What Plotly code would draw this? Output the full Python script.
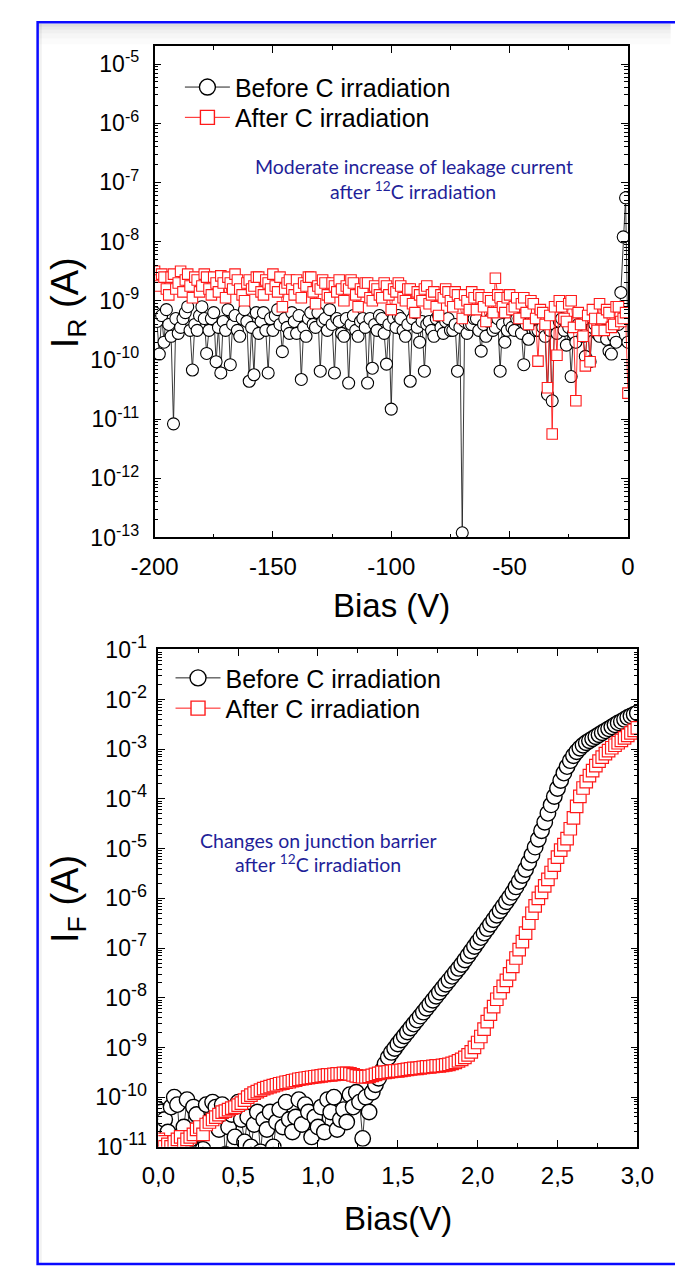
import numpy as np
import plotly.graph_objects as go

# ---------------- DATA ----------------
# Reverse bias sweep (V), 1 V steps
rev_bias = np.arange(-200, 1, 1)
# log10 of reverse current I_R (A)
rev_before_log10 = [
    -9.2, -9.35, -9.9, -9.25, -9.7, -9.15, -9.4, -9.6, -11.08, -9.3,
    -9.55, -9.45, -9.3, -9.2, -9.1, -9.5, -10.17, -9.4, -9.5, -9.25,
    -9.1, -9.3, -9.89, -9.5, -9.3, -9.2, -10.03, -9.45, -10.22, -9.35,
    -9.5, -9.15, -10.08, -9.4, -9.25, -9.5, -9.6, -9.3, -9.15, -9.35,
    -10.36, -9.45, -10.25, -9.2, -9.55, -9.35, -9.2, -9.5, -10.22, -9.3,
    -9.5, -9.25, -9.15, -9.4, -9.86, -9.3, -9.45, -9.55, -9.2, -9.35,
    -9.55, -9.25, -10.33, -9.45, -9.6, -9.3, -9.2, -9.4, -9.45, -9.2,
    -10.19, -9.35, -9.3, -9.5, -9.15, -9.4, -10.22, -9.3, -9.35, -9.55,
    -9.6, -9.3, -10.39, -9.4, -9.25, -9.5, -9.6, -9.35, -9.3, -9.45,
    -10.39, -9.3, -10.14, -9.4, -9.5, -9.25, -9.3, -9.55, -10.07, -9.4,
    -10.83, -9.3, -9.45, -9.25, -9.3, -9.5, -9.6, -9.4, -10.36, -9.3,
    -9.2, -9.45, -9.7, -9.35, -10.19, -9.4, -9.35, -9.5, -9.6, -9.3,
    -9.25, -9.45, -9.55, -9.35, -9.3, -9.5, -9.5, -9.4, -10.19, -9.45,
    -12.92, -9.35, -9.55, -9.4, -9.4, -9.3, -9.3, -9.5, -9.85, -9.4,
    -9.6, -9.35, -9.3, -9.5, -9.45, -9.3, -10.19, -9.4, -9.7, -9.5,
    -9.35, -9.45, -9.5, -9.3, -9.3, -9.55, -10.08, -9.4, -9.65, -9.35,
    -9.35, -9.5, -9.5, -9.3, -9.45, -9.6, -10.58, -9.5, -10.69, -9.4,
    -9.55, -9.35, -9.3, -9.5, -9.75, -9.45, -10.28, -9.55, -9.7, -9.4,
    -9.45, -9.6, -9.94, -9.5, -10.03, -9.45, -9.4, -9.55, -9.6, -9.4,
    -9.5, -9.65, -9.85, -9.9, -9.6, -9.7, -9.4, -8.86, -7.92, -7.26,
    -9.7,
]
rev_after_log10 = [
    -8.5, -8.65, -8.75, -8.55, -8.6, -8.8, -8.9, -8.6, -8.55, -8.8,
    -8.7, -8.5, -8.85, -8.65, -8.55, -8.75, -8.95, -8.6, -8.65, -8.85,
    -8.75, -8.55, -8.6, -8.8, -8.9, -8.6, -8.7, -8.85, -8.58, -8.7,
    -8.95, -8.6, -8.7, -8.8, -8.55, -8.65, -8.8, -8.9, -9.0, -8.7,
    -8.65, -8.8, -8.75, -8.6, -8.6, -8.85, -8.9, -8.65, -8.7, -8.8,
    -8.55, -8.75, -8.85, -8.6, -9.1, -8.8, -8.7, -8.65, -8.8, -8.9,
    -8.65, -8.8, -8.95, -8.7, -8.75, -8.6, -8.6, -8.85, -9.05, -8.75,
    -8.8, -8.65, -8.7, -8.9, -8.95, -8.7, -8.75, -8.85, -8.65, -8.8,
    -9.0, -8.75, -8.8, -8.65, -8.7, -8.9, -9.1, -8.8, -8.85, -8.7,
    -8.7, -8.95, -9.0, -8.75, -8.8, -8.9, -8.95, -8.7, -8.75, -8.9,
    -9.15, -8.8, -8.85, -8.7, -8.75, -8.95, -9.0, -8.8, -8.8, -9.05,
    -9.2, -8.85, -8.9, -9.0, -8.8, -8.75, -9.05, -8.9, -8.85, -9.1,
    -9.25, -8.9, -8.95, -8.8, -8.85, -9.0, -9.1, -8.85, -8.9, -9.05,
    -9.3, -8.9, -9.0, -9.15, -8.85, -8.95, -9.15, -8.9, -8.95, -9.1,
    -9.35, -8.95, -9.0, -9.2, -8.62, -8.9, -8.95, -9.1, -9.2, -8.95,
    -8.9, -9.15, -9.1, -8.95, -9.3, -9.05, -8.95, -9.2, -9.4, -9.0,
    -9.05, -9.3, -10.02, -9.15, -9.2, -9.4, -10.47, -9.25, -11.25, -9.1,
    -9.92, -9.0, -9.1, -9.3, -9.35, -9.05, -9.0, -9.45, -10.69, -9.2,
    -9.4, -9.6, -10.1, -9.25, -10.03, -9.15, -9.3, -9.5, -9.05, -9.3,
    -9.5, -9.15, -9.2, -9.45, -9.4, -9.1, -9.1, -9.35, -9.3, -9.2,
    -10.56,
]

# Forward bias sweep (V), 0.02 V steps
fwd_bias = np.round(np.arange(0, 3.001, 0.02), 2)
# log10 of forward current I_F (A)
fwd_before_log10 = [
    -10.25, -10.3, -10.45, -10.7, -10.2, -10.0, -10.15, -11.1, -10.6, -10.05,
    -10.85, -10.2, -10.35, -10.75, -11.05, -10.15, -10.5, -10.1, -10.2, -10.65,
    -10.15, -11.15, -10.6, -10.35, -10.8, -10.1, -10.45, -10.9, -10.4, -11.0,
    -10.55, -10.3, -11.1, -10.45, -10.65, -10.3, -11.0, -10.5, -10.25, -10.6,
    -10.1, -10.45, -10.7, -10.4, -10.05, -10.55, -10.15, -10.3, -10.8, -10.4,
    -10.6, -10.2, -10.7, -10.05, -10.3, -10.0, -10.65, -10.45, -10.25, -10.5,
    -9.95, -10.2, -9.9, -10.1, -10.83, -10.0, -10.3, -9.9, -9.75, -9.62,
    -9.47, -9.33, -9.2, -9.1, -9.02, -8.93, -8.85, -8.77, -8.69, -8.61,
    -8.53, -8.45, -8.37, -8.29, -8.21, -8.13, -8.05, -7.97, -7.89, -7.81,
    -7.73, -7.65, -7.57, -7.49, -7.41, -7.33, -7.24, -7.15, -7.06, -6.97,
    -6.88, -6.79, -6.7, -6.61, -6.52, -6.43, -6.34, -6.25, -6.16, -6.07,
    -5.98, -5.88, -5.77, -5.66, -5.54, -5.42, -5.28, -5.13, -4.97, -4.81,
    -4.64, -4.47, -4.29, -4.12, -3.95, -3.79, -3.63, -3.48, -3.35, -3.23,
    -3.13, -3.05, -2.98, -2.92, -2.87, -2.83, -2.79, -2.75, -2.71, -2.67,
    -2.63, -2.59, -2.55, -2.51, -2.47, -2.44, -2.40, -2.36, -2.33, -2.30,
    -2.27,
]
fwd_after_log10 = [
    -10.85, -10.9, -11.0, -10.95, -11.0, -10.9, -10.85, -10.8, -10.95, -10.85,
    -10.8, -10.75, -10.65, -10.6, -10.75, -10.55, -10.5, -10.45, -10.4, -10.35,
    -10.3, -10.28, -10.25, -10.22, -10.2, -10.16, -10.12, -10.06, -10.0, -9.96,
    -9.92, -9.89, -9.86, -9.83, -9.81, -9.79, -9.77, -9.75, -9.73, -9.72,
    -9.70, -9.69, -9.67, -9.66, -9.64, -9.63, -9.62, -9.61, -9.60, -9.59,
    -9.58, -9.57, -9.56, -9.55, -9.55, -9.54, -9.53, -9.53, -9.52, -9.52,
    -9.53, -9.55, -9.57, -9.58, -9.59, -9.59, -9.58, -9.56, -9.54, -9.52,
    -9.5, -9.5, -9.49, -9.48, -9.47, -9.47, -9.46, -9.45, -9.44, -9.43,
    -9.42, -9.42, -9.41, -9.40, -9.39, -9.39, -9.38, -9.37, -9.37, -9.36,
    -9.35, -9.34, -9.32, -9.30, -9.27, -9.24, -9.2, -9.15, -9.09, -9.0,
    -8.9, -8.78, -8.63, -8.48, -8.33, -8.18, -8.03, -7.9, -7.77, -7.65,
    -7.52, -7.37, -7.2, -7.03, -6.87, -6.7, -6.5, -6.3, -6.15, -6.0,
    -5.88, -5.75, -5.62, -5.48, -5.33, -5.17, -5.03, -4.92, -4.8, -4.6,
    -4.38, -4.15, -3.95, -3.78, -3.65, -3.53, -3.43, -3.33, -3.24, -3.16,
    -3.09, -3.03, -2.97, -2.92, -2.87, -2.82, -2.77, -2.72, -2.67, -2.62,
    -2.57,
]

series_names = ["Before C irradiation", "After C irradiation"]

# tick labels
rev_x_ticks = [-200, -150, -100, -50, 0]
rev_x_ticktext = ["-200", "-150", "-100", "-50", "0"]
fwd_x_ticks = [0, 0.5, 1.0, 1.5, 2.0, 2.5, 3.0]
fwd_x_ticktext = ["0,0", "0,5", "1,0", "1,5", "2,0", "2,5", "3,0"]
rev_y_exponents = [-13, -12, -11, -10, -9, -8, -7, -6, -5]
fwd_y_exponents = [-11, -10, -9, -8, -7, -6, -5, -4, -3, -2, -1]

# ---------------- FIGURE ----------------
W, H = 675, 1279
def px(x):
    return x / W
def py(y):
    return 1 - y / H

FONT = "Liberation Sans, Arial, sans-serif"
NOTE_FONT = "Lato, Open Sans, sans-serif"
RED = "#ff1a1a"
BLACK_LINE = "#222222"

fig = go.Figure()

# top panel traces
fig.add_trace(go.Scatter(
    x=rev_bias, y=10 ** np.array(rev_before_log10), name=series_names[0],
    mode="lines+markers", xaxis="x", yaxis="y", showlegend=False,
    line=dict(color=BLACK_LINE, width=0.9),
    marker=dict(symbol="circle", size=12, color="white",
                line=dict(color="black", width=1.1)),
))
fig.add_trace(go.Scatter(
    x=rev_bias, y=10 ** np.array(rev_after_log10), name=series_names[1],
    mode="lines+markers", xaxis="x", yaxis="y", showlegend=False,
    line=dict(color=RED, width=0.9),
    marker=dict(symbol="square", size=10.5, color="white",
                line=dict(color=RED, width=1.1)),
))
# bottom panel traces
fig.add_trace(go.Scatter(
    x=fwd_bias, y=10 ** np.array(fwd_before_log10), name=series_names[0],
    mode="lines+markers", xaxis="x2", yaxis="y2", showlegend=False,
    line=dict(color=BLACK_LINE, width=0.9),
    marker=dict(symbol="circle", size=15.5, color="white",
                line=dict(color="black", width=1.4)),
))
fig.add_trace(go.Scatter(
    x=fwd_bias, y=10 ** np.array(fwd_after_log10), name=series_names[1],
    mode="lines+markers", xaxis="x2", yaxis="y2", showlegend=False,
    line=dict(color=RED, width=0.9),
    marker=dict(symbol="square", size=12.5, color="white",
                line=dict(color=RED, width=1.2)),
))

# legend entries (one legend per entry so each row can be placed exactly)
legend_specs = [
    ("legend", series_names[0], "circle", "black", BLACK_LINE, "x", "y"),
    ("legend2", series_names[1], "square", RED, RED, "x", "y"),
    ("legend3", series_names[0], "circle", "black", BLACK_LINE, "x2", "y2"),
    ("legend4", series_names[1], "square", RED, RED, "x2", "y2"),
]
for lg, nm, sym, mcol, lcol, xa, ya in legend_specs:
    fig.add_trace(go.Scatter(
        x=[None], y=[None], name=nm, mode="lines+markers",
        xaxis=xa, yaxis=ya, legend=lg, showlegend=True,
        line=dict(color=lcol, width=1.0),
        marker=dict(symbol=sym, size=16 if sym == "circle" else 14,
                    color="white", line=dict(color=mcol, width=1.4)),
    ))

def minor_vals(exps):
    return [m * 10.0 ** e for e in exps for m in range(2, 10)]

def axis_common(size, standoff):
    return dict(
        showline=True, linecolor="black", linewidth=1.5, mirror="ticks",
        ticks="inside", ticklen=7, tickwidth=1.3, tickcolor="black",
        showgrid=False, zeroline=False, ticklabelstandoff=standoff,
        tickfont=dict(family=FONT, size=size, color="black"),
    )

legend_common = dict(
    xanchor="left", yanchor="middle", bgcolor="rgba(0,0,0,0)",
    borderwidth=0, itemwidth=45,
    font=dict(family=FONT, size=25, color="black"),
)

fig.update_layout(
    width=W, height=H, autosize=False,
    margin=dict(l=0, r=0, t=0, b=0),
    paper_bgcolor="white", plot_bgcolor="white",
    xaxis=dict(
        domain=[px(139), px(643)], anchor="y", range=[-200, 0],
        tickmode="array", tickvals=rev_x_ticks, ticktext=rev_x_ticktext,
        minor=dict(ticks="inside", ticklen=4, tickwidth=1.2, tickcolor="black",
                   tickmode="array", tickvals=[-175, -125, -75, -25]),
        **axis_common(24, 7),
    ),
    yaxis=dict(
        domain=[py(533), py(30)], anchor="x", type="log", range=[-13, -4.70],
        tickmode="array", tickvals=[10.0 ** e for e in rev_y_exponents],
        ticktext=["10<sup>%d</sup>" % e for e in rev_y_exponents],
        minor=dict(ticks="inside", ticklen=4, tickwidth=1.0, tickcolor="black",
                   tickmode="array", tickvals=minor_vals(rev_y_exponents)),
        **axis_common(23, 9),
    ),
    xaxis2=dict(
        domain=[px(143), px(653)], anchor="y2", range=[0, 3],
        tickmode="array", tickvals=fwd_x_ticks, ticktext=fwd_x_ticktext,
        minor=dict(ticks="inside", ticklen=4, tickwidth=1.2, tickcolor="black",
                   tickmode="array", tickvals=[0.25, 0.75, 1.25, 1.75, 2.25, 2.75]),
        **axis_common(24, 7),
    ),
    yaxis2=dict(
        domain=[py(1157), py(647)], anchor="x2", type="log", range=[-11, -0.98],
        tickmode="array", tickvals=[10.0 ** e for e in fwd_y_exponents],
        ticktext=["10<sup><span style='font-size:18px'>%d</span></sup>" % e
                  for e in fwd_y_exponents],
        minor=dict(ticks="inside", ticklen=4, tickwidth=1.0, tickcolor="black",
                   tickmode="array", tickvals=minor_vals(fwd_y_exponents)),
        **axis_common(23, 5),
    ),
    legend=dict(x=px(166), y=py(72), **legend_common),
    legend2=dict(x=px(166), y=py(103), **legend_common),
    legend3=dict(x=px(156), y=py(677), **legend_common),
    legend4=dict(x=px(156), y=py(708), **legend_common),
    showlegend=True,
)

NOTE_COLOR = "#1f1f99"
annotations = [
    dict(x=px(47), y=py(293), text="I<sub>R</sub> (A)", textangle=-90,
         font=dict(family=FONT, size=38, color="black")),
    dict(x=px(391), y=py(603), text="Bias (V)",
         font=dict(family=FONT, size=33, color="black")),
    dict(x=px(47), y=py(903), text="I<sub>F</sub> (A)", textangle=-90,
         font=dict(family=FONT, size=38, color="black")),
    dict(x=px(398), y=py(1230), text="Bias(V)",
         font=dict(family=FONT, size=33, color="black")),
    dict(x=px(415), y=py(153), text="Moderate increase of leakage current",
         font=dict(family=NOTE_FONT, size=19.5, color=NOTE_COLOR)),
    dict(x=px(414), y=py(178), text="after <sup>12</sup>C irradiation",
         font=dict(family=NOTE_FONT, size=19.5, color=NOTE_COLOR)),
    dict(x=px(314), y=py(843), text="Changes on junction barrier",
         font=dict(family=NOTE_FONT, size=19.5, color=NOTE_COLOR)),
    dict(x=px(313), y=py(867), text="after <sup>12</sup>C irradiation",
         font=dict(family=NOTE_FONT, size=19.5, color=NOTE_COLOR)),
]
for a in annotations:
    a.update(xref="paper", yref="paper", showarrow=False,
             xanchor="center", yanchor="middle")
fig.update_layout(annotations=annotations)

# page frame with light shadow
shapes = []
for (y0, y1, op) in [(7, 10, 0.13), (10, 13, 0.09), (13, 17, 0.06),
                     (17, 22, 0.035), (22, 28, 0.015)]:
    shapes.append(dict(type="rect", xref="paper", yref="paper",
                       x0=px(15), x1=1.02, y0=py(y1), y1=py(y0),
                       fillcolor="rgba(0,0,0,%g)" % op, line=dict(width=0),
                       layer="below"))
shapes.append(dict(type="rect", xref="paper", yref="paper",
                   x0=px(16), x1=px(19), y0=py(1276), y1=py(7),
                   fillcolor="rgba(0,0,0,0.05)", line=dict(width=0),
                   layer="below"))
shapes.append(dict(type="rect", xref="paper", yref="paper",
                   x0=px(14.5), x1=1.05, y0=py(1277), y1=py(5.5),
                   line=dict(color="#0a0aff", width=2.5),
                   fillcolor="rgba(0,0,0,0)"))
fig.update_layout(shapes=shapes)

fig.write_html("out.html")
